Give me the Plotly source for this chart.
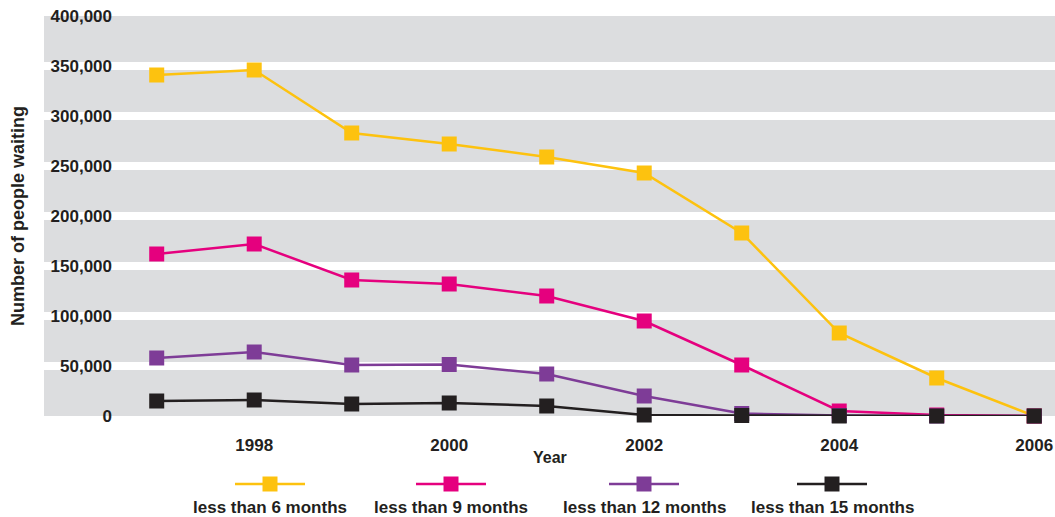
import plotly.graph_objects as go

years = [1997, 1998, 1999, 2000, 2001, 2002, 2003, 2004, 2005, 2006]
less_6 = [341000, 346000, 283000, 272000, 259000, 243000, 183000, 83000, 38000, 0]
less_9 = [162000, 172000, 136000, 132000, 120000, 95000, 51000, 5000, 1000, 0]
less_12 = [58000, 64000, 51000, 51500, 42000, 20000, 2500, 500, 0, 0]
less_15 = [15000, 16000, 12000, 13000, 10000, 1000, 500, 0, 0, 0]

series_names = ["less than 6 months", "less than 9 months", "less than 12 months", "less than 15 months"]
series_values = [less_6, less_9, less_12, less_15]
series_colors = ["#FDC20F", "#E5007E", "#7E3C97", "#231F20"]

x_tickvals = [1998, 2000, 2002, 2004, 2006]
y_tickvals = [0, 50000, 100000, 150000, 200000, 250000, 300000, 350000, 400000]

TEXT = "#231F20"
FONT = "Liberation Sans"

W, H = 1055, 517
ML, MR, MT, MB = 44, 0, 16, 101
PW = W - ML - MR
PH = H - MT - MB


def px_to_paper_x(px):
    return (px - ML) / PW


def px_to_paper_y(py):
    return (H - MB - py) / PH


fig = go.Figure()
for name, vals, col in zip(series_names, series_values, series_colors):
    fig.add_trace(go.Scatter(
        x=years, y=vals, name=name, mode="lines+markers",
        line=dict(color=col, width=2.5),
        marker=dict(symbol="square", size=15, color=col),
        cliponaxis=False, showlegend=False,
    ))

# custom legend: line + marker above, label below
legend_px = [270, 451, 644, 832]
shapes = []
annotations = []
for name, col, cx in zip(series_names, series_colors, legend_px):
    xp = px_to_paper_x(cx)
    yp = px_to_paper_y(484)
    shapes.append(dict(type="line", xref="paper", yref="paper",
                       xsizemode="pixel", ysizemode="pixel",
                       xanchor=xp, yanchor=yp, x0=-35, x1=35, y0=0, y1=0,
                       line=dict(color=col, width=2.5)))
    shapes.append(dict(type="rect", xref="paper", yref="paper",
                       xsizemode="pixel", ysizemode="pixel",
                       xanchor=xp, yanchor=yp, x0=-7.5, x1=7.5, y0=-7.5, y1=7.5,
                       fillcolor=col, line=dict(width=0)))
    annotations.append(dict(text=name, xref="paper", yref="paper",
                            x=xp, y=px_to_paper_y(507), xanchor="center", yanchor="middle",
                            showarrow=False, borderpad=0,
                            font=dict(family=FONT, size=17, color=TEXT, weight="bold")))

annotations.append(dict(text="Number of people waiting", xref="paper", yref="paper",
                        x=px_to_paper_x(18), y=0.5, xanchor="center", yanchor="middle",
                        textangle=-90, showarrow=False,
                        font=dict(family=FONT, size=18, color=TEXT, weight="bold")))
annotations.append(dict(text="Year", xref="paper", yref="paper",
                        x=0.5, y=px_to_paper_y(457), xanchor="center", yanchor="middle",
                        showarrow=False, borderpad=0,
                        font=dict(family=FONT, size=16, color=TEXT, weight="bold")))

fig.update_layout(
    width=W, height=H,
    margin=dict(l=ML, r=MR, t=MT, b=MB, pad=0),
    paper_bgcolor="white", plot_bgcolor="#DCDDDF",
    showlegend=False,
    shapes=shapes, annotations=annotations,
    font=dict(family=FONT, color=TEXT),
    xaxis=dict(
        range=[1995.844, 2006.213], tickvals=x_tickvals,
        showgrid=False, zeroline=False, showline=False,
        ticks="outside", ticklen=14, tickcolor="rgba(0,0,0,0)",
        tickfont=dict(family=FONT, size=17, color=TEXT, weight="bold"),
        automargin=False, fixedrange=True,
    ),
    yaxis=dict(
        range=[0, 400000], tickvals=y_tickvals, tickformat=",d",
        showgrid=True, gridcolor="white", gridwidth=8,
        zeroline=False, showline=False, ticks="",
        anchor="free", position=px_to_paper_x(112),
        tickfont=dict(family=FONT, size=17, color=TEXT, weight="bold"),
        automargin=False, fixedrange=True,
    ),
)

fig.write_html("out.html")
